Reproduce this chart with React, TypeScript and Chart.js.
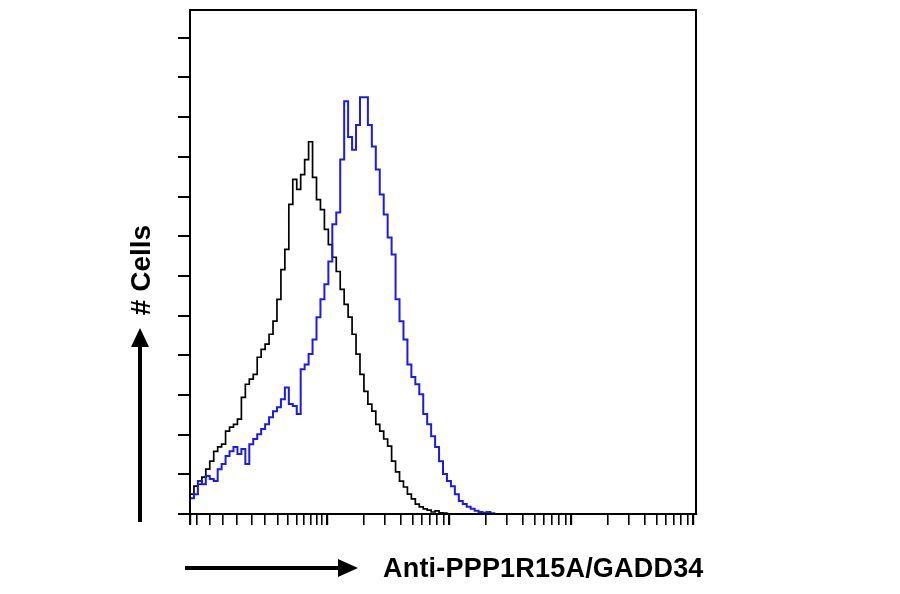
import React, { useEffect, useRef } from "react";
import { Chart, registerables } from "chart.js";

Chart.register(...registerables);

// Histogram bins: 128 bins of 8 channels over a 1024-channel fluorescence axis
const BIN_WIDTH = 8;
const X_MAX = 1024;
const Y_MAX = 127;

// Stained sample (blue)
const stainedCounts = [
  26, 4, 5, 8.3, 7.5, 9.6, 8.8, 8.3, 11.3, 12.6,
  14.6, 15.8, 16.9, 15.1, 16.4, 12.6, 17.6, 18.9, 20.1, 21.4,
  22.6, 24.4, 25.9, 26.9, 28.9, 31.9, 27.7, 27.2, 25.2, 36.5,
  37.7, 40.3, 44, 49.6, 54.1, 57.9, 63.6, 73, 76, 89.3,
  104, 95, 91.8, 98, 105, 105, 98, 92.6, 86.8, 80.5,
  75.5, 69.7, 65.4, 54.1, 48.6, 44, 37.7, 34.5, 32.7, 30.2,
  25.2, 22.6, 19.6, 16.9, 13.3, 10.1, 8.3, 7, 5, 3.3,
  2.5, 1.8, 1.3, 0.8, 0.5, 0.3, 0.5, 0.2, 0, 0,
  0, 0, 0, 0, 0, 0, 0, 0, 0, 0,
  0, 0, 0, 0, 0, 0, 0, 0, 0, 0,
  0, 0, 0, 0, 0, 0, 0, 0, 0, 0,
  0, 0, 0, 0, 0, 0, 0, 0, 0, 0,
  0, 0, 0, 0, 0, 0, 0, 0,
];

// Isotype control (black)
const controlCounts = [
  4, 5, 7, 7.5, 9.3, 11.3, 13.3, 15.8, 16.9, 17.6,
  20.9, 21.9, 22.6, 23.9, 29.4, 32.7, 34, 35.2, 39.5, 41.5,
  42.8, 45.3, 48.6, 54.1, 61.6, 66.7, 78, 84.3, 81.8, 85.5,
  89.3, 93.8, 84.8, 79.2, 76.7, 71.7, 67.9, 64.7, 61.1, 56.6,
  52.8, 49.6, 45.3, 40.3, 35.2, 30.9, 27.7, 25.9, 22.6, 20.9,
  18.9, 17.1, 13.3, 10.6, 8.3, 6.8, 5, 3.8, 2.5, 1.8,
  1.3, 1, 0.5, 0.8, 0.3, 0.2, 0, 0, 0, 0,
  0, 0, 0, 0, 0, 0, 0, 0, 0, 0,
  0, 0, 0, 0, 0, 0, 0, 0, 0, 0,
  0, 0, 0, 0, 0, 0, 0, 0, 0, 0,
  0, 0, 0, 0, 0, 0, 0, 0, 0, 0,
  0, 0, 0, 0, 0, 0, 0, 0, 0, 0,
  0, 0, 0, 0, 0, 0, 0, 0,
];

// Tick mark positions (channels); no tick labels are shown
const xTickChannels = [
  0, 14, 40, 67, 95, 125, 152, 178, 198, 217, 231, 245, 257, 267, 277,
  351, 395, 426, 450, 469, 486, 500, 513, 524,
  598, 642, 673, 697, 716, 733, 747, 760, 771,
  845, 889, 920, 944, 963, 980, 994, 1007, 1018,
];
const xMajorTicks = [0, 277, 524, 771, 1018];
const yTickValues = [0, 10, 20, 30, 40, 50, 60, 70, 80, 90, 100, 110, 120];

const xAxisLabel = "Anti-PPP1R15A/GADD34";
const yAxisLabel = "# Cells";

const STAINED_COLOR = "#1c1ce6";
const CONTROL_COLOR = "#000000";

function toPoints(counts: number[]) {
  const pts = counts.map((v, i) => ({ x: i * BIN_WIDTH, y: v }));
  pts.push({ x: counts.length * BIN_WIDTH, y: counts[counts.length - 1] });
  return pts;
}

const frameBox = {
  id: "frameBox",
  afterDraw(chart: any) {
    const { ctx, chartArea } = chart;
    ctx.save();
    ctx.strokeStyle = "#000";
    ctx.lineWidth = 2;
    ctx.strokeRect(chartArea.left, chartArea.top, chartArea.right - chartArea.left, chartArea.bottom - chartArea.top);
    ctx.restore();
  },
};

export default function App() {
  const canvasRef = useRef<HTMLCanvasElement | null>(null);

  useEffect(() => {
    if (!canvasRef.current) return;
    const chart = new Chart(canvasRef.current, {
      type: "line",
      data: {
        datasets: [
          {
            label: "Stained",
            data: toPoints(stainedCounts),
            borderColor: STAINED_COLOR,
            borderWidth: 2,
            pointRadius: 0,
            stepped: "after",
            fill: false,
          },
          {
            label: "Control",
            data: toPoints(controlCounts),
            borderColor: CONTROL_COLOR,
            borderWidth: 1.7,
            pointRadius: 0,
            stepped: "after",
            fill: false,
          },
        ],
      },
      options: {
        animation: false,
        responsive: false,
        parsing: false as any,
        layout: { autoPadding: false, padding: { left: 0, top: 10, right: 204, bottom: 0 } },
        plugins: { legend: { display: false }, tooltip: { enabled: false }, title: { display: false } },
        scales: {
          x: {
            type: "linear",
            min: 0,
            max: X_MAX,
            afterBuildTicks: (scale: any) => {
              scale.ticks = xTickChannels.map((value) => ({ value }));
            },
            afterFit: (scale: any) => {
              scale.height = 80;
            },
            ticks: { display: false },
            grid: {
              drawOnChartArea: false,
              drawTicks: true,
              tickLength: 11,
              color: "#000",
              lineWidth: (ctx: any) => (ctx.tick && xMajorTicks.includes(ctx.tick.value) ? 2.2 : 1.6),
            },
            border: { display: true, color: "#000", width: 2 },
          },
          y: {
            type: "linear",
            min: 0,
            max: Y_MAX,
            afterBuildTicks: (scale: any) => {
              scale.ticks = yTickValues.map((value) => ({ value }));
            },
            afterFit: (scale: any) => {
              scale.width = 190;
            },
            ticks: { display: false },
            grid: {
              drawOnChartArea: false,
              drawTicks: true,
              tickLength: 12,
              color: "#000",
              lineWidth: 2,
            },
            border: { display: true, color: "#000", width: 2 },
          },
        },
      },
      plugins: [frameBox],
    } as any);
    return () => chart.destroy();
  }, []);

  return (
    <div style={{ position: "absolute", left: 0, top: 0, width: 900, height: 594, background: "#fff", overflow: "hidden" }}>
      <canvas ref={canvasRef} width={900} height={594} style={{ display: "block", position: "absolute", left: 0, top: 0 }} />
      <svg width={900} height={594} style={{ position: "absolute", left: 0, top: 0, pointerEvents: "none" }}>
        <line x1={140} y1={522} x2={140} y2={344} stroke="#000" strokeWidth={4} />
        <polygon points="131,347 149,347 140,328" fill="#000" />
        <line x1={185} y1={568} x2={340} y2={568} stroke="#000" strokeWidth={4} />
        <polygon points="338,559 338,577 358,568" fill="#000" />
      </svg>
      <div
        style={{
          position: "absolute",
          left: 141,
          top: 270,
          transform: "translate(-50%, -50%) rotate(-90deg)",
          fontFamily: "'Liberation Sans', Arial, sans-serif",
          fontWeight: 700,
          fontSize: 28,
          lineHeight: 1,
          whiteSpace: "nowrap",
          color: "#000",
        }}
      >
        {yAxisLabel}
      </div>
      <div
        style={{
          position: "absolute",
          left: 383,
          top: 568,
          transform: "translate(0, -50%)",
          fontFamily: "'Liberation Sans', Arial, sans-serif",
          fontWeight: 700,
          fontSize: 27,
          lineHeight: 1,
          letterSpacing: "0.2px",
          whiteSpace: "nowrap",
          color: "#000",
        }}
      >
        {xAxisLabel}
      </div>
    </div>
  );
}
